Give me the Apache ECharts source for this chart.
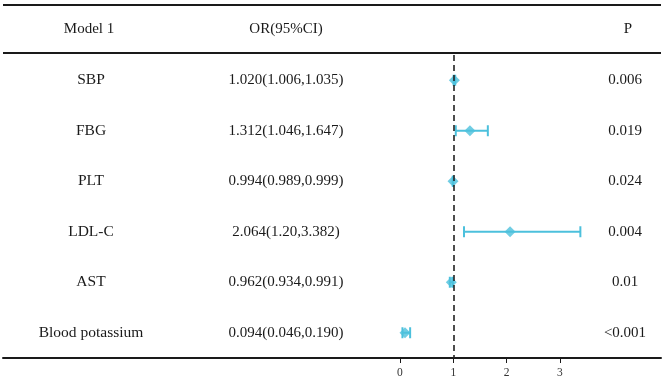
<!DOCTYPE html>
<html>
<head>
<meta charset="utf-8">
<script src="https://cdn.jsdelivr.net/npm/echarts@6/dist/echarts.min.js"></script>
<style>html,body{margin:0;padding:0;background:#fff;}#main{width:664px;height:379px;}</style>
</head>
<body>
<div id="main"></div>
<script>
var names = ['SBP','FBG','PLT','LDL-C','AST','Blood potassium'];
var orText = ['1.020(1.006,1.035)','1.312(1.046,1.647)','0.994(0.989,0.999)','2.064(1.20,3.382)','0.962(0.934,0.991)','0.094(0.046,0.190)'];
var pText = ['0.006','0.019','0.024','0.004','0.01','<0.001'];
var orVal = [1.020,1.312,0.994,2.064,0.962,0.094];
var lowVal = [1.006,1.046,0.989,1.20,0.934,0.046];
var highVal = [1.035,1.647,0.999,3.382,0.991,0.190];
var ticks = [0,1,2,3];

var blue = '#4cc0dc', ink = '#1a1a1a', font = '"Liberation Serif", "Times New Roman", serif';
var chart = echarts.init(document.getElementById('main'));

var errData = [], ptData = [];
for (var i = 0; i < names.length; i++) {
    errData.push([lowVal[i], highVal[i], i]);
    ptData.push([orVal[i], i]);
}

chart.setOption({
    animation: false,
    grid: {left: 3, right: 3, top: 55, bottom: 21},
    xAxis: {type: 'value', min: -7.444, max: 4.894, splitLine: {show: false},
        axisLine: {show: true, onZero: false, lineStyle: {color: ink, width: 2}},
        axisTick: {show: true, customValues: ticks, length: 5, lineStyle: {color: ink, width: 1}},
        axisLabel: {customValues: ticks, color: '#333', fontFamily: font, fontSize: 11.5, margin: 9}},
    yAxis: {type: 'category', data: names, inverse: true, show: false},
    series: [{
        type: 'custom',
        data: errData,
        renderItem: function(params, api){
            var a = api.coord([api.value(0), api.value(2)]);
            var b = api.coord([api.value(1), api.value(2)]);
            var st = {stroke: blue, lineWidth: 2};
            return {type: 'group', children: [
                {type: 'line', shape: {x1: a[0], y1: a[1], x2: b[0], y2: b[1]}, style: st},
                {type: 'line', shape: {x1: a[0], y1: a[1]-5.5, x2: a[0], y2: a[1]+5.5}, style: st},
                {type: 'line', shape: {x1: b[0], y1: b[1]-5.5, x2: b[0], y2: b[1]+5.5}, style: st}
            ]};
        },
        z: 3
    }, {
        type: 'scatter',
        data: ptData,
        symbol: 'diamond',
        symbolSize: 11,
        itemStyle: {color: blue},
        z: 4,
        markLine: {silent: true, symbol: 'none', label: {show: false},
            lineStyle: {color: '#222', type: [6, 4], width: 1.6},
            data: [{xAxis: 1}]}
    }]
});

// table text, rows placed by the category axis
var g = [
    {type: 'line', shape: {x1: 3, y1: 5, x2: 661, y2: 5}, style: {stroke: ink, lineWidth: 2}},
    {type: 'line', shape: {x1: 3, y1: 53, x2: 661, y2: 53}, style: {stroke: ink, lineWidth: 2}},
    {type: 'text', x: 89, y: 29, style: {text: 'Model 1', font: '15px ' + font, fill: ink, align: 'center', verticalAlign: 'middle'}},
    {type: 'text', x: 286, y: 29, style: {text: 'OR(95%CI)', font: '15px ' + font, fill: ink, align: 'center', verticalAlign: 'middle'}},
    {type: 'text', x: 628, y: 29, style: {text: 'P', font: '15px ' + font, fill: ink, align: 'center', verticalAlign: 'middle'}}
];
names.forEach(function(n, i){
    var y = chart.convertToPixel({yAxisIndex: 0}, n);
    g.push({type: 'text', x: 91, y: y, style: {text: n, font: '15.5px ' + font, fill: ink, align: 'center', verticalAlign: 'middle'}});
    g.push({type: 'text', x: 286, y: y, style: {text: orText[i], font: '15px ' + font, fill: ink, align: 'center', verticalAlign: 'middle'}});
    g.push({type: 'text', x: 625, y: y, style: {text: pText[i], font: '15px ' + font, fill: ink, align: 'center', verticalAlign: 'middle'}});
});
chart.setOption({graphic: g});
</script>
</body>
</html>
